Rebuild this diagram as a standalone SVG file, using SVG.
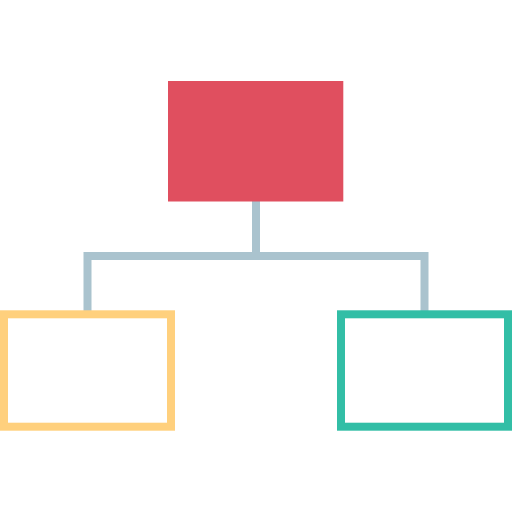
<svg xmlns="http://www.w3.org/2000/svg" width="512" height="512" viewBox="0 0 512 512">
<style>
.conn{fill:none;stroke:#AAC3CE;stroke-width:8;stroke-linejoin:miter;stroke-linecap:butt}
.box{fill:#FFFFFF;stroke-width:8}
</style>
<rect width="512" height="512" fill="#FFFFFF"/>
<g id="connectors">
<path class="conn" d="M256 201 V256"/>
<path class="conn" d="M87.5 311 V256 H424.5 V311"/>
</g>
<g id="top">
<rect x="168" y="81" width="175.3" height="120.5" fill="#E04F5F"/>
</g>
<g id="left">
<rect class="box" x="4" y="314.3" width="167" height="112.4" stroke="#FFD07D"/>
</g>
<g id="right">
<rect class="box" x="341" y="314.3" width="167" height="112.4" stroke="#32BEA6"/>
</g>
</svg>
